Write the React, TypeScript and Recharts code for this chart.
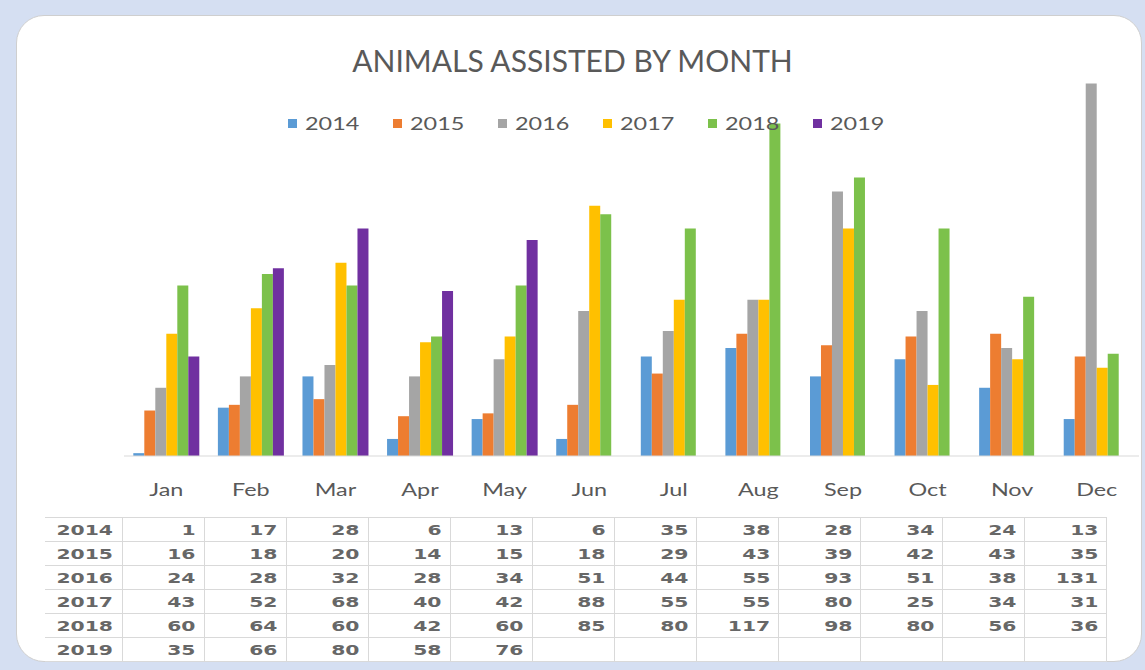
import React from "react";
import { Bar, BarChart, Legend, XAxis, YAxis } from "recharts";

const months = ["Jan", "Feb", "Mar", "Apr", "May", "Jun", "Jul", "Aug", "Sep", "Oct", "Nov", "Dec"];
const years = ["2014", "2015", "2016", "2017", "2018", "2019"];

const v2014 = [1, 17, 28, 6, 13, 6, 35, 38, 28, 34, 24, 13];
const v2015 = [16, 18, 20, 14, 15, 18, 29, 43, 39, 42, 43, 35];
const v2016 = [24, 28, 32, 28, 34, 51, 44, 55, 93, 51, 38, 131];
const v2017 = [43, 52, 68, 40, 42, 88, 55, 55, 80, 25, 34, 31];
const v2018 = [60, 64, 60, 42, 60, 85, 80, 117, 98, 80, 56, 36];
// 2019 only runs to May
const v2019 = [35, 66, 80, 58, 76];

const yearValues = [v2014, v2015, v2016, v2017, v2018, v2019];
const colors = ["#5b9bd5", "#ed7d31", "#a5a5a5", "#ffc000", "#7cc14b", "#7030a0"];

const rows = months.map((month, i) => {
  const row: Record<string, string | number | undefined> = { month };
  years.forEach((y, k) => {
    row[y] = yearValues[k][i];
  });
  return row;
});

const textGrey = "#595959";

function MonthTick({ x, y, payload }: any) {
  return (
    <g transform={`translate(${x},${y + 32}) scale(1.3,1)`}>
      <text x={0} y={0} textAnchor="middle" fill={textGrey} fontFamily="Lato" fontSize={18}>
        {payload.value}
      </text>
    </g>
  );
}

function YearLegend({ payload }: any) {
  return (
    <div style={{ display: "flex", justifyContent: "center", paddingLeft: 30, gap: 31 }}>
      {(payload || []).map((entry: any) => (
        <div key={entry.value} style={{ display: "flex", alignItems: "center" }}>
          <span style={{ width: 9, height: 9, background: entry.color, marginRight: 8 }} />
          <span style={{ width: 57, height: 22, display: "inline-block" }}>
            <span
              style={{
                display: "inline-block",
                transform: "scaleX(1.3)",
                transformOrigin: "left center",
                fontFamily: "Lato",
                fontSize: 18,
                lineHeight: "22px",
                color: textGrey
              }}
            >
              {entry.value}
            </span>
          </span>
        </div>
      ))}
    </div>
  );
}

const cellText: React.CSSProperties = {
  display: "inline-block",
  transform: "scaleX(1.45)",
  transformOrigin: "right center",
  fontFamily: "DejaVu Sans",
  fontWeight: 700,
  fontSize: 14,
  color: "#676767"
};

const lineColor = "#d9d9d9";

function DataTable() {
  return (
    <table
      style={{
        position: "absolute",
        left: 45,
        top: 517,
        width: 1062,
        borderCollapse: "collapse",
        tableLayout: "fixed"
      }}
    >
      <colgroup>
        <col style={{ width: 77 }} />
        {months.map((m) => (
          <col key={m} style={{ width: 82.08 }} />
        ))}
      </colgroup>
      <tbody>
        {years.map((y, k) => (
          <tr key={y} style={{ height: 24 }}>
            <td
              style={{
                padding: "0 9px 0 0",
                textAlign: "right",
                borderTop: `1px solid ${lineColor}`,
                borderBottom: `1px solid ${lineColor}`
              }}
            >
              <span style={cellText}>{y}</span>
            </td>
            {months.map((m, i) => (
              <td
                key={m}
                style={{
                  padding: "0 8px 0 0",
                  textAlign: "right",
                  border: `1px solid ${lineColor}`
                }}
              >
                <span style={cellText}>{yearValues[k][i] ?? ""}</span>
              </td>
            ))}
          </tr>
        ))}
      </tbody>
    </table>
  );
}

export default function App() {
  return (
    <div style={{ position: "relative", width: 1145, height: 670, background: "#d5dff2", overflow: "hidden" }}>
      <style>{`body{margin:0}`}</style>
      <div
        style={{
          position: "absolute",
          left: 16,
          top: 15,
          width: 1126,
          height: 647,
          background: "#ffffff",
          borderRadius: 28,
          border: "1px solid #cfcfcf",
          boxSizing: "border-box"
        }}
      />
      <div
        style={{
          position: "absolute",
          left: 0,
          top: 42,
          width: 1145,
          textAlign: "center",
          fontFamily: "Lato",
          fontSize: 30,
          lineHeight: "36px",
          color: textGrey
        }}
      >
        ANIMALS ASSISTED BY MONTH
      </div>
      <div style={{ position: "absolute", left: 0, top: 0 }}>
        <BarChart
          width={1145}
          height={670}
          data={rows}
          margin={{ top: 58, right: 6, bottom: 184, left: 124 }}
          barCategoryGap="11%"
          barGap={0}
        >
          <XAxis
            dataKey="month"
            height={30}
            tickLine={false}
            axisLine={{ stroke: lineColor }}
            tick={<MonthTick />}
            interval={0}
          />
          <YAxis hide domain={[0, 140]} />
          <Legend
            layout="horizontal"
            verticalAlign="middle"
            align="center"
            content={<YearLegend />}
            wrapperStyle={{ top: 112, left: 0, width: 1145 }}
          />
          {years.map((y, k) => (
            <Bar key={y} dataKey={y} fill={colors[k]} isAnimationActive={false} />
          ))}
        </BarChart>
      </div>
      <DataTable />
    </div>
  );
}
